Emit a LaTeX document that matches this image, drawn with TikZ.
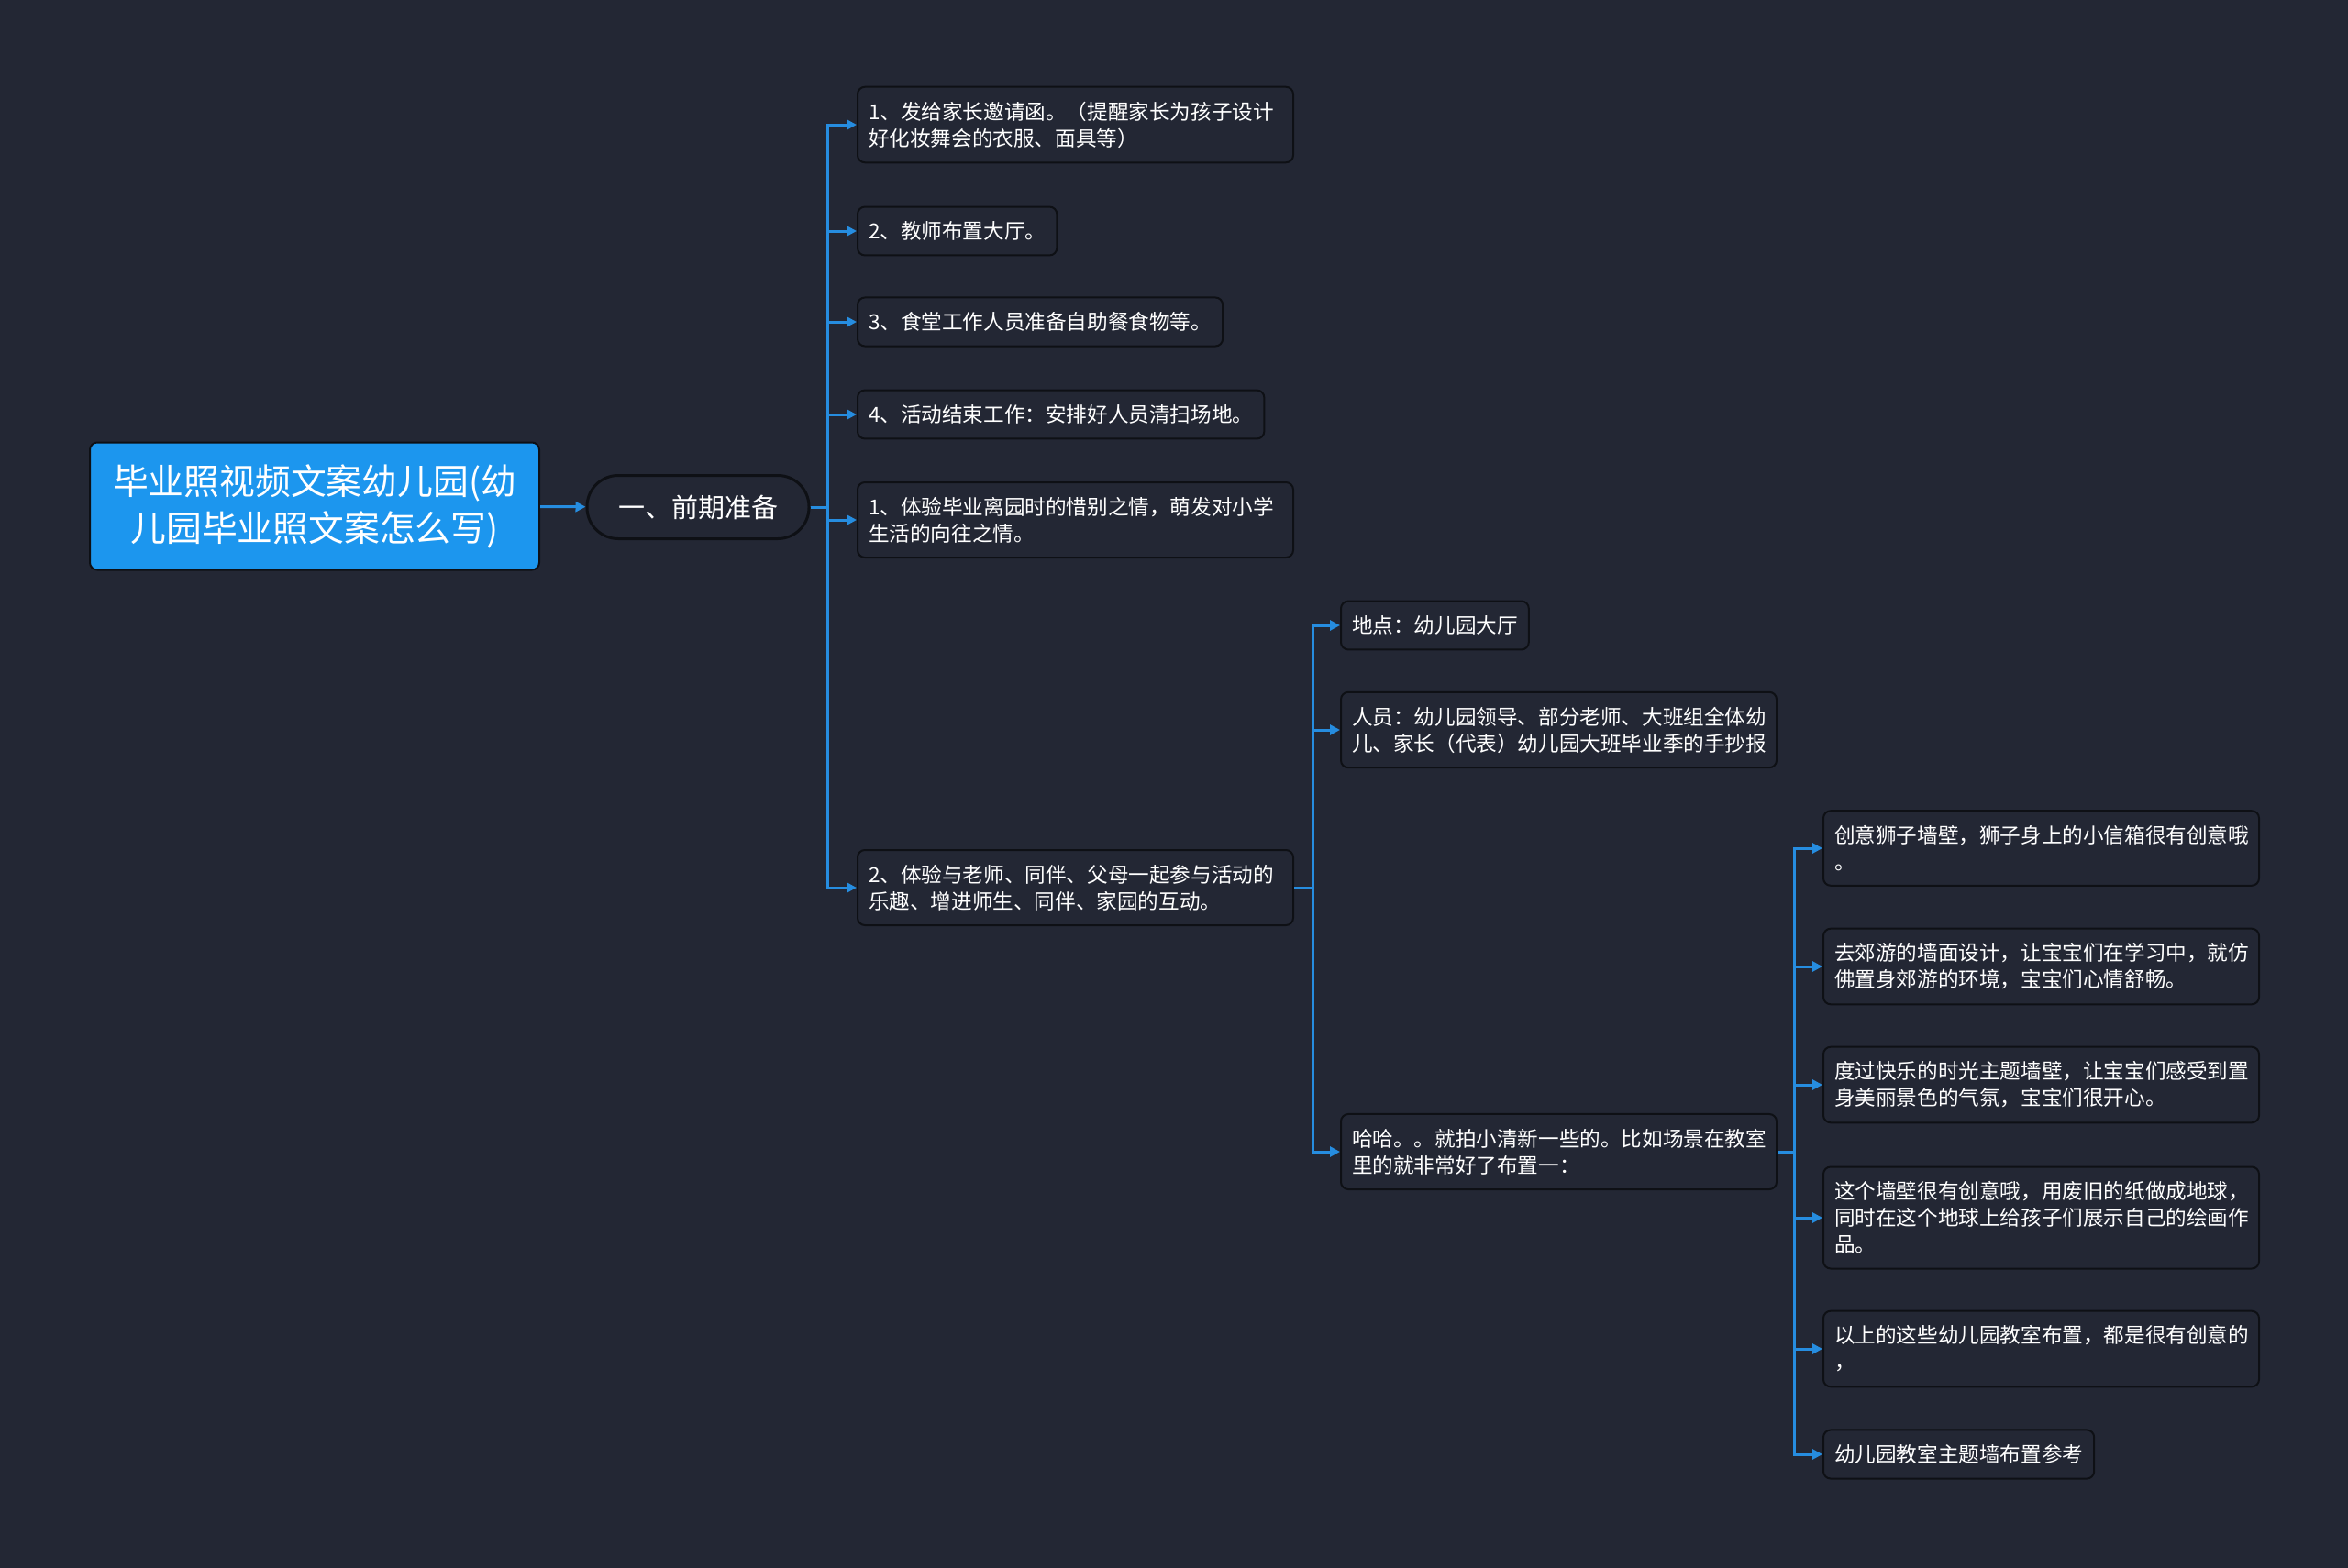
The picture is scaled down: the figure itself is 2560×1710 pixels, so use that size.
\documentclass[tikz,border=0pt]{standalone}
\usepackage{fontspec}
\setmainfont{Noto Sans CJK SC}
\usepackage{tikz}
\usetikzlibrary{positioning}
\usetikzlibrary{arrows.meta}
\usetikzlibrary{calc}

\definecolor{bgcol}{RGB}{35,39,52}
\definecolor{boxcol}{RGB}{35,39,52}
\definecolor{edgecol}{RGB}{14,16,21}
\definecolor{rootcol}{RGB}{28,150,238}
\definecolor{linkcol}{RGB}{38,141,224}

\tikzset{
	topic/.style={draw=edgecol, line width=2pt, fill=boxcol, rounded corners=8pt, text=white,
		anchor=west, align=left, inner xsep=12pt, inner ysep=16pt,
		font=\fontsize{22.6}{29}\selectfont},
	widebox/.style={text width=451pt},
	link/.style={draw=linkcol, line width=3pt, -{Triangle[length=11pt,width=11pt]}}
}

\begin{document}
\begin{tikzpicture}[x=1pt, y=-1pt]
\fill[bgcol] (0,0) rectangle (2560,1710);
\useasboundingbox (0,0) rectangle (2560,1710);

\node[draw=edgecol, line width=2pt, fill=rootcol, rounded corners=8pt, text=white,
	minimum width=490pt, minimum height=139pt, text width=465pt, align=center,
	font=\fontsize{38.8}{51}\selectfont] (root) at (343,552)
	{毕业照视频文案幼儿园(幼\\儿园毕业照文案怎么写)};
\node[draw=edgecol, line width=3pt, fill=boxcol, rounded corners=34pt, text=white,
	minimum width=242pt, minimum height=69pt, font=\fontsize{29}{36}\selectfont] (prep) at (761,553)
	{一、前期准备};

\node[topic, widebox] (p1) at (934,136) {1、发给家长邀请函。（提醒家长为孩子设计\\好化妆舞会的衣服、面具等）};
\node[topic] (p2) at (934,252) {2、教师布置大厅。};
\node[topic] (p3) at (934,351) {3、食堂工作人员准备自助餐食物等。};
\node[topic] (p4) at (934,452) {4、活动结束工作：安排好人员清扫场地。};
\node[topic, widebox] (p5) at (934,567) {1、体验毕业离园时的惜别之情，萌发对小学\\生活的向往之情。};
\node[topic, widebox] (p6) at (934,968) {2、体验与老师、同伴、父母一起参与活动的\\乐趣、增进师生、同伴、家园的互动。};

\node[topic] (q1) at (1461,682) {地点：幼儿园大厅};
\node[topic, widebox] (q2) at (1461,796) {人员：幼儿园领导、部分老师、大班组全体幼\\儿、家长（代表）幼儿园大班毕业季的手抄报};
\node[topic, widebox] (q3) at (1461,1256) {哈哈。。就拍小清新一些的。比如场景在教室\\里的就非常好了布置一：};

\node[topic, widebox] (r1) at (1987,925) {创意狮子墙壁，狮子身上的小信箱很有创意哦\\。};
\node[topic, widebox] (r2) at (1987,1054) {去郊游的墙面设计，让宝宝们在学习中，就仿\\佛置身郊游的环境，宝宝们心情舒畅。};
\node[topic, widebox] (r3) at (1987,1183) {度过快乐的时光主题墙壁，让宝宝们感受到置\\身美丽景色的气氛，宝宝们很开心。};
\node[topic, widebox] (r4) at (1987,1328) {这个墙壁很有创意哦，用废旧的纸做成地球，\\同时在这个地球上给孩子们展示自己的绘画作\\品。};
\node[topic, widebox] (r5) at (1987,1471) {以上的这些幼儿园教室布置，都是很有创意的\\，};
\node[topic] (r6) at (1987,1586) {幼儿园教室主题墙布置参考};

\draw[link] (root) -- (prep);
\foreach \n in {p1,p2,p3,p4,p5,p6}
	\draw[link] (prep.east) -- ++(19,0) |- (\n);
\foreach \n in {q1,q2,q3}
	\draw[link] (p6.east) -- ++(20,0) |- (\n);
\foreach \n in {r1,r2,r3,r4,r5,r6}
	\draw[link] (q3.east) -- ++(18,0) |- (\n);
%\draw (prep.south) node[below] {};
\end{tikzpicture}
\end{document}
